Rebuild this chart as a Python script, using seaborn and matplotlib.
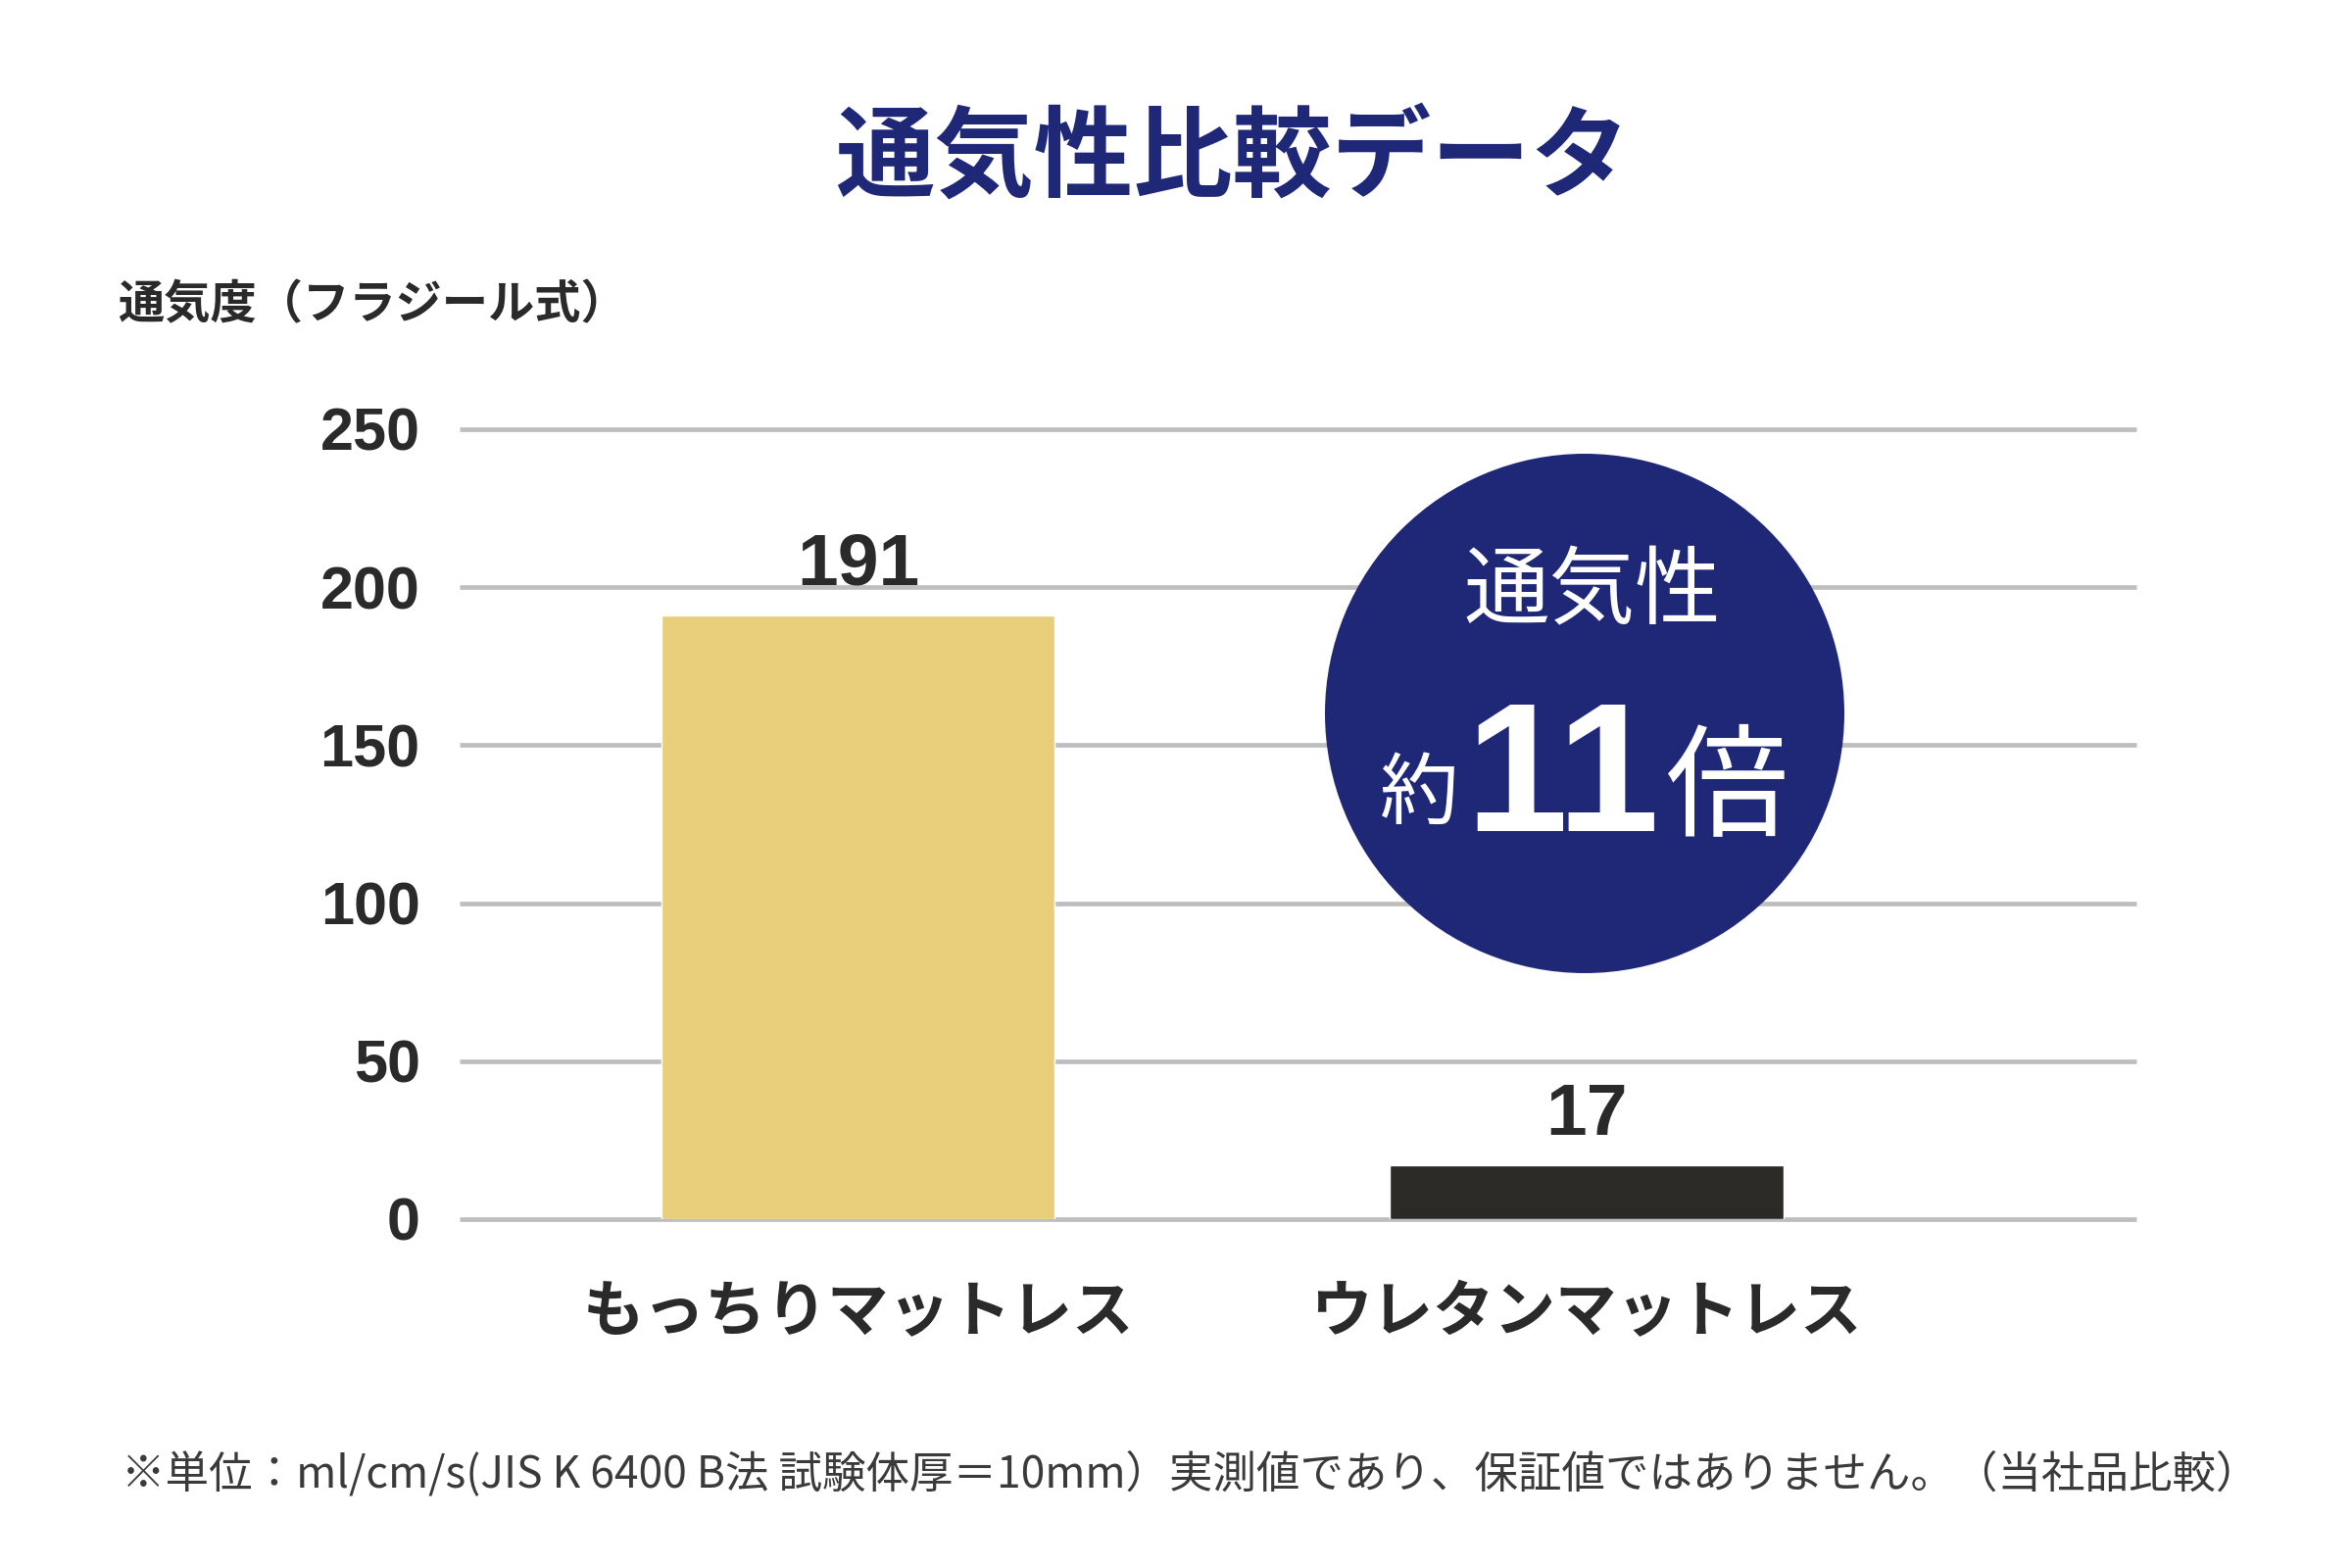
import matplotlib
matplotlib.use('Agg')
import matplotlib.pyplot as plt
from matplotlib.patches import Circle
import seaborn as sns
import pandas as pd

# data
products = ['もっちりマットレス', 'ウレタンマットレス']
airflow = [191, 17]
bar_colors = ['#E8CD7B', '#2B2A26']
y_ticks = [0, 50, 100, 150, 200, 250]

title = '通気性比較データ'
y_label = '通気度（フラジール式）'
badge_top = '通気性'
badge_pre, badge_num, badge_post = '約', '11', '倍'
footnote = '※単位：ml/cm/s(JIS K 6400 B法 試験体厚＝10mm）実測値であり、保証値ではありません。（当社品比較）'

NAVY = '#1F2877'
INK = '#2A2A2A'
GRID = '#BEBEBE'

sns.set_theme(style='white')
plt.rcParams['font.family'] = ['Noto Sans CJK JP', 'DejaVu Sans']
NUM_FONT = ['Liberation Sans Narrow', 'Liberation Sans', 'DejaVu Sans']

W, H = 2400, 1600
fig = plt.figure(figsize=(24, 16), dpi=100)
fig.patch.set_facecolor('white')

def fx(px):
    return px / W

def fy(py):
    return 1 - py / H

# axes box: x 469..2180, y 438 (250) .. 1244 (0)
ax = fig.add_axes([fx(469), fy(1244), fx(2180) - fx(469), (1244 - 438) / H])

df = pd.DataFrame({'product': products, 'airflow': airflow})
sns.barplot(data=df, x='product', y='airflow', hue='product', palette=bar_colors,
            width=0.54, saturation=1, legend=False, ax=ax, zorder=3)

ax.set_xlim(-0.547, 1.755)
ax.set_ylim(0, 250)
for v in y_ticks:
    ax.axhline(v, color=GRID, lw=3.4, zorder=1, clip_on=False, solid_capstyle='butt')

for s in ax.spines.values():
    s.set_visible(False)
ax.grid(False)
ax.set_xlabel('')
ax.set_ylabel('')
ax.set_yticks(y_ticks)
ax.set_yticklabels([str(v) for v in y_ticks], fontsize=44, fontweight='bold',
                   color=INK, family=NUM_FONT)
ax.tick_params(axis='y', length=0, pad=29)
ax.tick_params(axis='x', length=0, pad=46)
for lab in ax.get_xticklabels():
    lab.set_fontsize(45)
    lab.set_fontweight('bold')
    lab.set_color(INK)

for cont in ax.containers:
    ax.bar_label(cont, labels=[f'{v:.0f}' for v in cont.datavalues], padding=12,
                 fontsize=54, fontweight='bold', color=INK, family=NUM_FONT)

# title and axis caption
fig.text(fx(1258), fy(193), title, ha='center', va='baseline', fontsize=73,
         fontweight='bold', color=NAVY)
fig.text(fx(120), fy(325), y_label, ha='left', va='baseline', fontsize=34,
         fontweight='bold', color=INK)

# badge circle
circ = Circle((1617 / 100, (H - 728) / 100), 2.65, transform=fig.dpi_scale_trans,
              facecolor=NAVY, edgecolor='none', zorder=5)
fig.add_artist(circ)
fig.text(fx(1625), fy(630), badge_top, ha='center', va='baseline', fontsize=63,
         color='white', zorder=6)
fig.text(fx(1448), fy(835), badge_pre, ha='center', va='baseline', fontsize=58,
         color='white', zorder=6)
fig.text(fx(1594), fy(848), badge_num, ha='center', va='baseline', fontsize=135,
         fontweight='bold', color='white', family=NUM_FONT, zorder=6)
fig.text(fx(1762), fy(844), badge_post, ha='center', va='baseline', fontsize=90,
         color='white', zorder=6)

# footnote
fig.text(fx(1215), fy(1517), footnote, ha='center', va='baseline', fontsize=32,
         color='#3A3A3A')

fig.savefig('out.png', dpi=100, facecolor='white')
